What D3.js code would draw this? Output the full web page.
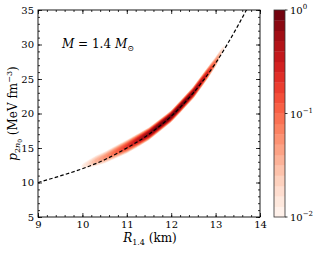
<!DOCTYPE html>
<html>
<head>
<meta charset="utf-8">
<script src="https://cdn.jsdelivr.net/npm/d3@7"></script>
<style>
  body { margin: 0; background: #fff; }
  svg { display: block; }
  svg text { font-family: "DejaVu Serif", "Liberation Serif", "Times New Roman", serif !important; fill: #000; }
</style>
</head>
<body>
<svg id="chart" width="315" height="253"></svg>
<script>
// dashed relation p(R)
var curveR = [9, 9.5, 10, 10.5, 11, 11.5, 12, 12.5, 13, 13.5, 13.8];
var curveP = [10.0, 10.95, 12.0, 13.3, 15.0, 17.0, 19.6, 23.0, 27.3, 32.7, 36.3];

// ridge of the posterior band
var ridgeR      = [9.9, 10.0, 10.3, 10.6, 11.0, 11.3, 11.6, 11.9, 12.2, 12.5, 12.8, 13.0, 13.15, 13.3];
var ridgePeak   = [0.004, 0.012, 0.035, 0.07, 0.2, 0.45, 0.85, 1.0, 1.0, 0.75, 0.3, 0.08, 0.02, 0.004];
var ridgeSigma  = [0.45, 0.45, 0.45, 0.42, 0.38, 0.33, 0.29, 0.27, 0.27, 0.28, 0.3, 0.32, 0.32, 0.3];
var ridgeOffset = [0.35, 0.35, 0.35, 0.3, 0.2, 0.1, 0.05, 0, 0, 0.05, 0.1, 0.2, 0.25, 0.25];

var xTicks = [9, 10, 11, 12, 13, 14];
var yTicks = [5, 10, 15, 20, 25, 30, 35];
var cbTicks = [0, -1, -2];   // exponents
var nLevels = 20;

var svg = d3.select('#chart');
var mLeft = 38, mRight = 260, mTop = 10, mBottom = 217;

var x = d3.scaleLinear().domain([9, 14]).range([mLeft, mRight]);
var y = d3.scaleLinear().domain([5, 35]).range([mBottom, mTop]);

svg.append('clipPath').attr('id', 'clip')
  .append('rect').attr('x', mLeft).attr('y', mTop)
  .attr('width', mRight - mLeft).attr('height', mBottom - mTop);

// density grid, one value per pixel
var peakLog = d3.scaleLinear().domain(ridgeR).range(ridgePeak.map(Math.log10));
var sigAt = d3.scaleLinear().domain(ridgeR).range(ridgeSigma).clamp(true);
var offAt = d3.scaleLinear().domain(ridgeR).range(ridgeOffset).clamp(true);
var curveAt = d3.scaleLinear().domain(curveR).range(curveP);

var nx = mRight - mLeft, ny = mBottom - mTop;
var values = new Array(nx * ny);
for (var j = 0; j < ny; j++) {
  for (var i = 0; i < nx; i++) {
    var R = x.invert(mLeft + i + 0.5), P = y.invert(mTop + j + 0.5);
    var v = 0;
    if (R > ridgeR[0] && R < ridgeR[ridgeR.length - 1]) {
      var c = curveAt(R) + offAt(R), s = sigAt(R);
      v = Math.pow(10, peakLog(R)) * Math.exp(-0.5 * Math.pow((P - c) / s, 2));
    }
    values[j * nx + i] = v;
  }
}

var levels = d3.range(nLevels).map(function(k) { return Math.pow(10, -2 + 2 * k / nLevels); });
var color = function(k) { return d3.interpolateReds((k + 0.5) / nLevels); };

var contours = d3.contours().size([nx, ny]).thresholds(levels)(values);
svg.append('g').attr('clip-path', 'url(#clip)')
  .append('g').attr('transform', 'translate(' + mLeft + ',' + mTop + ')')
  .selectAll('path').data(contours).enter().append('path')
  .attr('d', d3.geoPath())
  .attr('fill', function(d, k) { return color(k); })
  .attr('stroke', function(d, k) { return color(k); })
  .attr('stroke-width', 0.3);

// dashed curve
var line = d3.line()
  .x(function(d) { return x(d[0]); })
  .y(function(d) { return y(d[1]); })
  .curve(d3.curveMonotoneX);
svg.append('path').attr('clip-path', 'url(#clip)')
  .datum(d3.zip(curveR, curveP))
  .attr('d', line)
  .attr('fill', 'none').attr('stroke', '#000')
  .attr('stroke-width', 1.2).attr('stroke-dasharray', '3.6,2.2');

// axes with inward ticks
function drawAxis(axisFn, scale, ticks, minor, pos, labels) {
  var g = svg.append('g').attr('transform', pos);
  g.call(axisFn(scale).tickValues(minor).tickSize(-2).tickSizeOuter(0).tickFormat(''));
  var g2 = svg.append('g').attr('transform', pos);
  g2.call(axisFn(scale).tickValues(ticks).tickSize(-4).tickSizeOuter(0).tickPadding(4)
    .tickFormat(labels ? d3.format('d') : ''));
  [g, g2].forEach(function(s) {
    s.select('.domain').remove();
    s.attr('font-family', null).attr('font-size', null);
    s.selectAll('line').attr('stroke', '#000').attr('stroke-width', 0.8);
    s.selectAll('text').style('font-size', '10px');
  });
  return g2;
}
var xMinor = d3.range(9, 14.001, 0.2);
var yMinor = d3.range(5, 35.001, 1);
drawAxis(d3.axisBottom, x, xTicks, xMinor, 'translate(0,' + mBottom + ')', true);
drawAxis(d3.axisTop, x, xTicks, xMinor, 'translate(0,' + mTop + ')', false);
drawAxis(d3.axisLeft, y, yTicks, yMinor, 'translate(' + mLeft + ',0)', true);
drawAxis(d3.axisRight, y, yTicks, yMinor, 'translate(' + mRight + ',0)', false);

svg.append('rect').attr('x', mLeft).attr('y', mTop)
  .attr('width', mRight - mLeft).attr('height', mBottom - mTop)
  .attr('fill', 'none').attr('stroke', '#000').attr('stroke-width', 0.9);

// annotation
var ann = svg.append('text').attr('x', 62).attr('y', 48).style('font-size', '12px');
ann.append('tspan').style('font-style', 'italic').text('M');
ann.append('tspan').text(' = 1.4 ');
ann.append('tspan').style('font-style', 'italic').text('M');
ann.append('tspan').attr('dy', 3).style('font-size', '8px').text('\u2299');

// axis labels
var xl = svg.append('text').attr('x', 150).attr('y', 242).attr('text-anchor', 'middle').style('font-size', '12px');
xl.append('tspan').style('font-style', 'italic').text('R');
xl.append('tspan').attr('dy', 3).style('font-size', '8px').text('1.4');
xl.append('tspan').attr('dy', -3).text(' (km)');

var yl = svg.append('text').attr('transform', 'translate(17,' + ((mTop + mBottom) / 2) + ') rotate(-90)')
  .attr('text-anchor', 'middle').style('font-size', '12px');
yl.append('tspan').style('font-style', 'italic').text('p');
yl.append('tspan').attr('dy', 3).style('font-size', '8px').text('2');
yl.append('tspan').style('font-size', '8px').style('font-style', 'italic').text('n');
yl.append('tspan').attr('dy', 2).style('font-size', '6px').text('0');
yl.append('tspan').attr('dy', -5).text(' (MeV fm');
yl.append('tspan').attr('dy', -5).style('font-size', '8px').text('\u22123');
yl.append('tspan').attr('dy', 5).text(')');

// colorbar
var cbX = 274, cbW = 11;
var cy = d3.scaleLog().domain([1e-2, 1]).range([mBottom, mTop]);
var edges = levels.concat([1]);
svg.append('g').selectAll('rect').data(levels).enter().append('rect')
  .attr('x', cbX).attr('width', cbW)
  .attr('y', function(d, k) { return cy(edges[k + 1]); })
  .attr('height', function(d, k) { return cy(edges[k]) - cy(edges[k + 1]) + 0.3; })
  .attr('fill', function(d, k) { return color(k); });
svg.append('rect').attr('x', cbX).attr('y', mTop).attr('width', cbW).attr('height', mBottom - mTop)
  .attr('fill', 'none').attr('stroke', '#333').attr('stroke-width', 0.8);
var cbt = svg.append('g').selectAll('g').data(cbTicks).enter().append('g')
  .attr('transform', function(e) { return 'translate(' + (cbX + cbW) + ',' + cy(Math.pow(10, e)) + ')'; });
cbt.append('line').attr('x2', 2.5).attr('stroke', '#000').attr('stroke-width', 0.8);
var cbl = cbt.append('text').attr('x', 5).attr('y', 4).style('font-size', '10px');
cbl.append('tspan').text('10');
cbl.append('tspan').attr('dy', -5).style('font-size', '7px').text(function(e) { return e === 0 ? '0' : '\u2212' + (-e); });
</script>
</body>
</html>
